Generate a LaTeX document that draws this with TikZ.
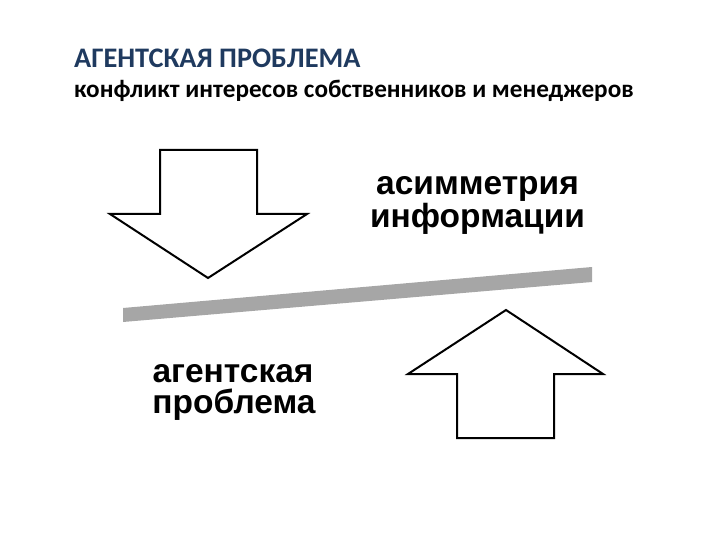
\documentclass[tikz,border=0pt]{standalone}
\usepackage{fontspec}
\setmainfont{Carlito}
\newfontfamily\arialf{Liberation Sans}
\definecolor{titleblue}{HTML}{1F3A5F}
\definecolor{bargray}{HTML}{A6A6A6}
\begin{document}
\begin{tikzpicture}[x=1pt,y=-1pt,
  arrowshape/.style={draw=black,line width=2pt,fill=white,line join=miter},
  bigtext/.style={font=\arialf\bfseries\fontsize{33.5}{33.5}\selectfont,anchor=base,inner sep=0pt}]
\useasboundingbox (0,0) rectangle (720,540);
\node[anchor=base west,inner sep=0pt,text=titleblue,font=\bfseries\fontsize{28.3}{28.3}\selectfont] (title) at (74,68) {АГЕНТСКАЯ ПРОБЛЕМА};
\node[anchor=base west,inner sep=0pt,font=\bfseries\fontsize{25.2}{25.2}\selectfont] (sub) at (74,98) {конфликт интересов собственников и менеджеров};
% down arrow
\draw[arrowshape] (160,150) -- (257,150) -- (257,214) -- (307,214) -- (208,278) -- (110,214) -- (160,214) -- cycle;
% bar
\fill[bargray] (123,308) -- (592,267) -- (592,282) -- (123,322) -- cycle;
% up arrow
\draw[arrowshape] (506,310) -- (603,374) -- (554,374) -- (554,438) -- (457,438) -- (457,374) -- (408,374) -- cycle;
\node[bigtext] (a1) at (477.5,195) {асимметрия};
\node[bigtext] (a2) at (477.5,228) {информации};
\node[bigtext] (b1) at (233,382) {агентская};
\node[bigtext] (b2) at (234,413) {проблема};
\end{tikzpicture}
\end{document}
